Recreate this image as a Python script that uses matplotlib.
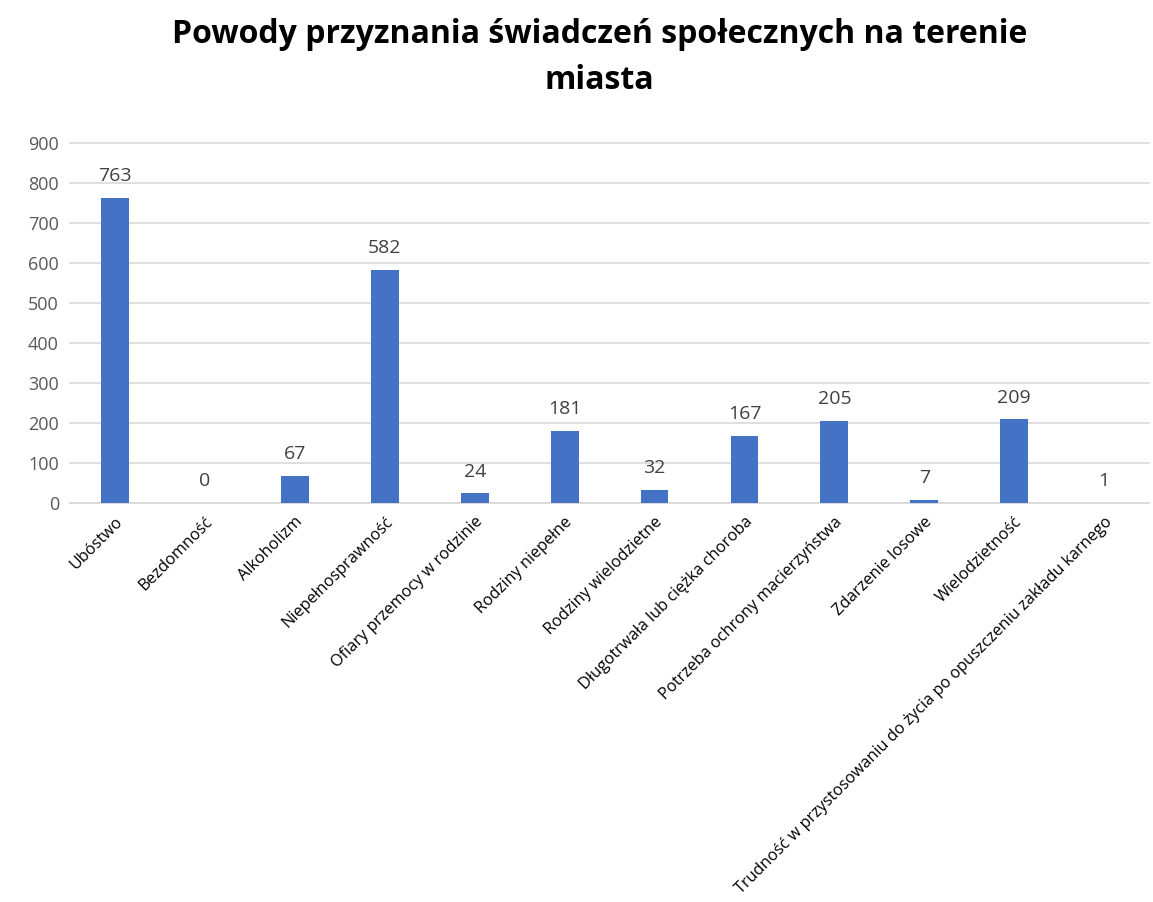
import matplotlib.pyplot as plt

categories = ["Ubóstwo", "Bezdomność", "Alkoholizm", "Niepełnosprawność",
              "Ofiary przemocy w rodzinie", "Rodziny niepełne", "Rodziny wielodzietne",
              "Długotrwała lub ciężka choroba", "Potrzeba ochrony macierzyństwa",
              "Zdarzenie losowe", "Wielodzietność",
              "Trudność w przystosowaniu do życia po opuszczeniu zakładu karnego"]
values = [763, 0, 67, 582, 24, 181, 32, 167, 205, 7, 209, 1]
yticks = [0, 100, 200, 300, 400, 500, 600, 700, 800, 900]

plt.rcParams['font.family'] = ['Open Sans', 'DejaVu Sans']

fig = plt.figure(figsize=(11.53, 9.02), dpi=100)
ax = fig.add_axes([0.0607, 0.4424, 0.936, 0.3991])

x = range(len(categories))
bars = ax.bar(x, values, width=0.31, color='#4472C4', zorder=3)
for i, v in enumerate(values):
    ax.text(i, v + 32, str(v), ha='center', va='bottom', fontsize=14, color='#404040')

ax.set_xlim(-0.5, len(categories) - 0.5)
ax.set_ylim(0, 900)
ax.set_yticks(yticks)
ax.set_yticklabels([str(t) for t in yticks], fontsize=13, color='#595959')
ax.grid(axis='y', color='#D9D9D9', linewidth=1.2, zorder=0, clip_on=False)
for s in ['top', 'right', 'left']:
    ax.spines[s].set_visible(False)
ax.spines['bottom'].set_color('#D9D9D9')
ax.spines['bottom'].set_linewidth(1.2)
ax.tick_params(axis='both', length=0, pad=8)

ax.set_xticks(list(x))
ax.set_xticklabels(categories, rotation=45, ha='right', rotation_mode='anchor',
                   fontsize=11.7, color='#000000')
ax.tick_params(axis='x', pad=8)

fig.suptitle("Powody przyznania świadczeń społecznych na terenie\nmiasta",
             fontsize=23, fontweight='bold', x=0.52, y=0.98, linespacing=1.5)

fig.savefig('out.png', dpi=100)
